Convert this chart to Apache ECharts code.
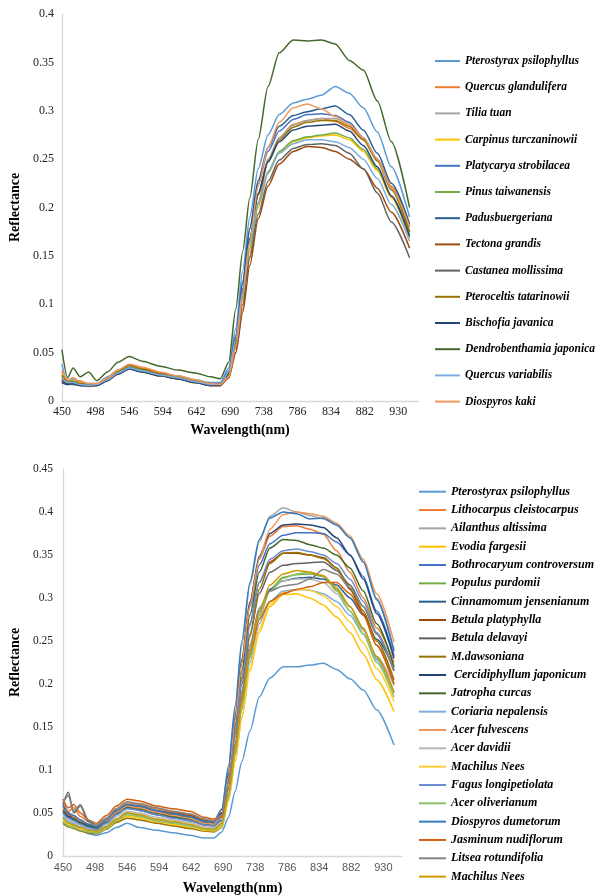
<!DOCTYPE html>
<html>
<head>
<meta charset="utf-8">
<title>Reflectance</title>
<script src="https://cdn.jsdelivr.net/npm/echarts@6.0.0/dist/echarts.min.js"></script>
<style>
  html, body { margin: 0; padding: 0; background: #fff; }
  #chart { width: 597px; height: 896px; }
</style>
</head>
<body>
<div id="chart"></div>
<script>
// sampled wavelengths (nm), shared by both panels
const wavelengths = [450, 458, 466, 476, 488, 500, 515, 530, 546, 565, 590, 615, 640, 662, 676,
  688, 698, 708, 718, 730, 744, 760, 780, 800, 820, 840, 860, 880, 900, 920, 946];
const xTickLabels = [450, 498, 546, 594, 642, 690, 738, 786, 834, 882, 930];
const yTicksTop = [0, 0.05, 0.1, 0.15, 0.2, 0.25, 0.3, 0.35, 0.4];
const yTicksBottom = [0, 0.05, 0.1, 0.15, 0.2, 0.25, 0.3, 0.35, 0.4, 0.45];

// excel style palette
const palette = ['#5B9BD5', '#ED7D31', '#A5A5A5', '#FFC000', '#4472C4', '#70AD47', '#255E91', '#9E480E',
  '#636363', '#997300', '#264478', '#43682B', '#7CAFDD', '#F1975A', '#B7B7B7', '#FFCD33', '#698ED0',
  '#8CC168', '#327DC2', '#D26012', '#848484', '#CC9A00'];

// ---- top panel ----
const topNames = ['Pterostyrax psilophyllus', 'Quercus glandulifera', 'Tilia tuan', 'Carpinus turczaninowii',
  'Platycarya strobilacea', 'Pinus taiwanensis', 'Padusbuergeriana', 'Tectona grandis', 'Castanea mollissima',
  'Pteroceltis tatarinowii', 'Bischofia javanica', 'Dendrobenthamia japonica', 'Quercus variabilis', 'Diospyros kaki'];

const topValues = [
  [0.038,0.019,0.023,0.020,0.018,0.018,0.025,0.032,0.037,0.034,0.029,0.026,0.022,0.019,0.019, 0.034,0.075,0.135,0.19,0.24,0.275,0.296,0.308,0.312,0.316,0.325,0.318,0.303,0.278,0.242,0.19],
  [0.030,0.022,0.020,0.021,0.017,0.017,0.023,0.031,0.037,0.034,0.029,0.025,0.021,0.017,0.016, 0.024,0.05,0.095,0.15,0.205,0.248,0.272,0.286,0.29,0.292,0.289,0.282,0.27,0.25,0.222,0.18],
  [0.025,0.021,0.019,0.018,0.016,0.017,0.023,0.030,0.035,0.032,0.027,0.024,0.020,0.017,0.017, 0.028,0.062,0.115,0.168,0.215,0.25,0.272,0.285,0.29,0.292,0.292,0.286,0.272,0.25,0.22,0.175],
  [0.024,0.020,0.019,0.018,0.016,0.017,0.022,0.029,0.034,0.031,0.026,0.023,0.019,0.016,0.016, 0.026,0.056,0.105,0.155,0.2,0.235,0.257,0.268,0.272,0.274,0.275,0.27,0.258,0.238,0.21,0.168],
  [0.022,0.018,0.020,0.017,0.016,0.017,0.022,0.030,0.035,0.032,0.028,0.025,0.021,0.018,0.018, 0.031,0.068,0.124,0.178,0.225,0.258,0.279,0.291,0.296,0.297,0.295,0.288,0.272,0.25,0.22,0.18],
  [0.026,0.019,0.021,0.018,0.017,0.017,0.023,0.030,0.035,0.032,0.027,0.024,0.020,0.017,0.017, 0.027,0.058,0.108,0.158,0.203,0.237,0.258,0.269,0.273,0.275,0.277,0.272,0.26,0.24,0.212,0.172],
  [0.020,0.017,0.019,0.016,0.016,0.017,0.022,0.029,0.034,0.031,0.027,0.024,0.020,0.017,0.017, 0.03,0.066,0.122,0.178,0.228,0.262,0.284,0.295,0.299,0.302,0.305,0.296,0.28,0.256,0.225,0.183],
  [0.022,0.019,0.018,0.017,0.016,0.016,0.021,0.028,0.033,0.030,0.026,0.023,0.019,0.016,0.016, 0.024,0.05,0.092,0.14,0.188,0.222,0.245,0.258,0.263,0.262,0.258,0.25,0.24,0.22,0.195,0.158],
  [0.021,0.018,0.017,0.016,0.015,0.016,0.021,0.028,0.033,0.030,0.026,0.023,0.019,0.016,0.016, 0.026,0.055,0.1,0.148,0.193,0.227,0.249,0.261,0.265,0.266,0.264,0.256,0.24,0.215,0.185,0.148],
  [0.027,0.020,0.020,0.018,0.017,0.017,0.023,0.031,0.037,0.033,0.028,0.025,0.021,0.017,0.017, 0.027,0.06,0.112,0.165,0.213,0.248,0.27,0.283,0.288,0.29,0.29,0.284,0.27,0.248,0.218,0.175],
  [0.019,0.017,0.018,0.016,0.016,0.016,0.021,0.028,0.033,0.030,0.026,0.023,0.019,0.016,0.016, 0.029,0.063,0.116,0.168,0.214,0.247,0.268,0.28,0.284,0.285,0.286,0.279,0.264,0.242,0.212,0.17],
  [0.053,0.024,0.034,0.025,0.030,0.021,0.030,0.040,0.046,0.041,0.036,0.032,0.029,0.025,0.023, 0.04,0.095,0.155,0.21,0.27,0.325,0.36,0.373,0.372,0.373,0.369,0.352,0.342,0.31,0.268,0.2],
  [0.024,0.019,0.019,0.017,0.016,0.017,0.022,0.029,0.034,0.031,0.027,0.024,0.020,0.017,0.017, 0.03,0.064,0.115,0.163,0.205,0.236,0.256,0.266,0.27,0.27,0.268,0.262,0.25,0.23,0.203,0.165],
  [0.032,0.022,0.024,0.020,0.018,0.018,0.024,0.032,0.038,0.035,0.030,0.026,0.022,0.018,0.017, 0.025,0.056,0.108,0.165,0.222,0.262,0.288,0.303,0.307,0.302,0.294,0.286,0.272,0.25,0.22,0.18]
];

// ---- bottom panel ----
// second "Machilus Nees" has a trailing space so the legend keeps both entries
const bottomNames = ['Pterostyrax psilophyllus', 'Lithocarpus cleistocarpus', 'Ailanthus altissima', 'Evodia fargesii',
  'Bothrocaryum controversum', 'Populus purdomii', 'Cinnamomum jensenianum', 'Betula platyphylla', 'Betula delavayi',
  'M.dawsoniana', ' Cercidiphyllum japonicum', 'Jatropha curcas', 'Coriaria nepalensis', 'Acer fulvescens',
  'Acer davidii', 'Machilus Nees', 'Fagus longipetiolata', 'Acer oliverianum', 'Diospyros dumetorum',
  'Jasminum nudiflorum', 'Litsea rotundifolia', 'Machilus Nees '];

const bottomValues = [
  [0.045,0.04,0.035,0.03,0.026,0.024,0.027,0.033,0.038,0.033,0.03,0.027,0.024,0.021,0.021, 0.028,0.045,0.075,0.11,0.145,0.185,0.207,0.22,0.22,0.222,0.224,0.217,0.206,0.193,0.17,0.129],
  [0.066,0.052,0.056,0.046,0.04,0.036,0.044,0.055,0.062,0.06,0.055,0.051,0.048,0.042,0.041, 0.055,0.1,0.165,0.23,0.295,0.345,0.372,0.383,0.384,0.38,0.374,0.355,0.33,0.3,0.265,0.225],
  [0.058,0.05,0.047,0.042,0.037,0.034,0.04,0.05,0.057,0.055,0.05,0.046,0.043,0.037,0.036, 0.05,0.1,0.17,0.245,0.315,0.365,0.395,0.405,0.4,0.396,0.392,0.385,0.37,0.342,0.3,0.24],
  [0.045,0.038,0.036,0.033,0.03,0.028,0.032,0.04,0.046,0.044,0.039,0.036,0.033,0.029,0.029, 0.035,0.065,0.11,0.16,0.215,0.26,0.29,0.304,0.305,0.3,0.292,0.278,0.26,0.235,0.205,0.168],
  [0.06,0.05,0.046,0.042,0.036,0.033,0.04,0.051,0.058,0.056,0.051,0.047,0.044,0.038,0.037, 0.05,0.095,0.16,0.225,0.29,0.338,0.363,0.373,0.376,0.376,0.375,0.365,0.35,0.325,0.285,0.233],
  [0.04,0.034,0.035,0.031,0.029,0.028,0.033,0.042,0.05,0.047,0.041,0.038,0.035,0.031,0.03, 0.038,0.07,0.12,0.175,0.232,0.28,0.31,0.324,0.327,0.328,0.325,0.31,0.29,0.265,0.23,0.19],
  [0.05,0.045,0.042,0.038,0.034,0.032,0.039,0.05,0.056,0.053,0.048,0.045,0.041,0.036,0.035, 0.042,0.078,0.13,0.185,0.24,0.285,0.31,0.32,0.323,0.324,0.322,0.315,0.3,0.28,0.252,0.218],
  [0.054,0.048,0.045,0.04,0.036,0.034,0.041,0.052,0.06,0.058,0.053,0.05,0.047,0.041,0.04, 0.05,0.09,0.148,0.208,0.27,0.318,0.342,0.352,0.352,0.35,0.347,0.335,0.31,0.282,0.245,0.2],
  [0.06,0.074,0.05,0.058,0.04,0.035,0.041,0.052,0.059,0.057,0.052,0.048,0.045,0.039,0.038, 0.048,0.087,0.142,0.2,0.258,0.305,0.33,0.338,0.34,0.341,0.342,0.332,0.315,0.29,0.258,0.215],
  [0.038,0.034,0.032,0.029,0.027,0.026,0.031,0.039,0.044,0.042,0.038,0.035,0.032,0.029,0.028, 0.033,0.068,0.125,0.19,0.255,0.31,0.34,0.352,0.353,0.35,0.346,0.335,0.312,0.285,0.25,0.205],
  [0.052,0.046,0.043,0.039,0.035,0.033,0.04,0.051,0.058,0.056,0.051,0.047,0.044,0.038,0.037, 0.05,0.095,0.16,0.228,0.295,0.348,0.375,0.385,0.386,0.385,0.382,0.37,0.35,0.322,0.282,0.23],
  [0.05,0.044,0.042,0.038,0.034,0.032,0.039,0.049,0.056,0.054,0.049,0.046,0.043,0.037,0.036, 0.047,0.09,0.152,0.215,0.28,0.33,0.358,0.368,0.367,0.362,0.358,0.35,0.335,0.308,0.27,0.22],
  [0.046,0.04,0.038,0.034,0.031,0.029,0.034,0.043,0.05,0.047,0.042,0.039,0.036,0.032,0.031, 0.038,0.07,0.118,0.17,0.225,0.27,0.296,0.308,0.31,0.309,0.305,0.296,0.28,0.258,0.228,0.19],
  [0.056,0.05,0.046,0.041,0.037,0.035,0.041,0.051,0.058,0.056,0.051,0.047,0.044,0.038,0.037, 0.048,0.092,0.158,0.225,0.292,0.345,0.38,0.397,0.4,0.398,0.395,0.387,0.372,0.345,0.305,0.249],
  [0.048,0.042,0.04,0.036,0.032,0.03,0.036,0.046,0.052,0.05,0.045,0.042,0.039,0.034,0.033, 0.04,0.075,0.128,0.182,0.238,0.283,0.308,0.32,0.322,0.322,0.318,0.305,0.285,0.262,0.232,0.198],
  [0.042,0.036,0.034,0.031,0.029,0.027,0.032,0.041,0.048,0.045,0.04,0.037,0.034,0.03,0.029, 0.034,0.064,0.11,0.162,0.218,0.264,0.293,0.306,0.31,0.309,0.303,0.29,0.272,0.248,0.218,0.18],
  [0.05,0.044,0.041,0.037,0.033,0.031,0.038,0.048,0.055,0.053,0.048,0.044,0.041,0.036,0.035, 0.045,0.085,0.143,0.205,0.268,0.318,0.345,0.355,0.357,0.354,0.35,0.34,0.322,0.296,0.26,0.215],
  [0.04,0.035,0.033,0.03,0.028,0.027,0.032,0.041,0.048,0.046,0.041,0.038,0.035,0.031,0.03, 0.036,0.068,0.117,0.172,0.23,0.277,0.308,0.323,0.328,0.33,0.326,0.308,0.285,0.258,0.225,0.185],
  [0.058,0.05,0.047,0.042,0.037,0.034,0.042,0.053,0.06,0.058,0.053,0.049,0.046,0.04,0.039, 0.054,0.105,0.175,0.25,0.318,0.368,0.393,0.4,0.398,0.392,0.393,0.385,0.37,0.342,0.298,0.238],
  [0.066,0.056,0.06,0.05,0.042,0.038,0.047,0.058,0.066,0.064,0.058,0.055,0.052,0.045,0.043, 0.045,0.08,0.13,0.182,0.235,0.275,0.296,0.305,0.31,0.313,0.318,0.318,0.305,0.28,0.245,0.2],
  [0.062,0.07,0.052,0.06,0.042,0.036,0.044,0.055,0.063,0.061,0.056,0.052,0.049,0.043,0.041, 0.048,0.085,0.138,0.192,0.245,0.288,0.308,0.314,0.316,0.322,0.333,0.328,0.312,0.29,0.258,0.215],
  [0.044,0.038,0.036,0.033,0.03,0.029,0.034,0.043,0.05,0.048,0.043,0.04,0.037,0.032,0.031, 0.038,0.072,0.122,0.178,0.236,0.284,0.315,0.328,0.332,0.33,0.326,0.312,0.29,0.264,0.232,0.19]
];

const serif = '"Liberation Serif", "Times New Roman", serif';

function buildSeries(names, values, axisIdx) {
  return names.map(function (name, i) {
    return {
      name: name,
      type: 'line',
      xAxisIndex: axisIdx,
      yAxisIndex: axisIdx,
      symbol: 'none',
      smooth: 0.25,
      smoothMonotone: 'x',
      color: palette[i],
      lineStyle: { width: 1.5, color: palette[i] },
      data: wavelengths.map(function (w, j) { return [w, values[i][j]]; })
    };
  });
}

function yAxis(ticks, grid, labelFont, margin, gap) {
  return {
    type: 'value',
    gridIndex: grid,
    min: ticks[0],
    max: ticks[ticks.length - 1],
    interval: ticks[1] - ticks[0],
    name: 'Reflectance',
    nameLocation: 'middle',
    nameGap: gap,
    nameTextStyle: { fontFamily: serif, fontWeight: 'bold', fontSize: 14, color: '#000' },
    axisLine: { show: true, lineStyle: { color: '#D9D9D9', width: 1.3 } },
    axisTick: { show: false },
    splitLine: { show: false },
    axisLabel: {
      margin: margin,
      fontFamily: serif,
      fontSize: labelFont,
      color: '#222',
      formatter: function (v) { return String(Math.round(v * 100) / 100); }
    }
  };
}

function xAxis(grid, labelStyle, gap) {
  return {
    type: 'value',
    gridIndex: grid,
    min: xTickLabels[0],
    max: 958,
    interval: xTickLabels[1] - xTickLabels[0],
    name: 'Wavelength(nm)',
    nameLocation: 'middle',
    nameGap: gap,
    nameTextStyle: { fontFamily: serif, fontWeight: 'bold', fontSize: 14, color: '#000' },
    axisLine: { show: true, lineStyle: { color: '#D9D9D9', width: 1.3 } },
    axisTick: { show: false },
    splitLine: { show: false },
    axisLabel: Object.assign({ showMaxLabel: false }, labelStyle)
  };
}

// legend with plain line swatches
function legend(names, left, top, width, gap, fontSize) {
  return {
    data: names,
    orient: 'vertical',
    left: left,
    top: top,
    padding: 0,
    icon: 'rect',
    itemWidth: width,
    itemHeight: 2,
    itemGap: gap,
    selectedMode: false,
    textStyle: {
      fontFamily: serif, fontWeight: 'bold', fontStyle: 'italic',
      fontSize: fontSize, lineHeight: 14, color: '#000'
    }
  };
}

const chart = echarts.init(document.getElementById('chart'), null, { renderer: 'canvas' });

chart.setOption({
  animation: false,
  backgroundColor: '#fff',
  grid: [
    { left: 54, top: 14, width: 364, height: 387 },
    { left: 57, top: 469, width: 345, height: 389 }
  ],
  xAxis: [
    xAxis(0, { margin: 5, fontFamily: serif, fontSize: 12, color: '#222' }, 22),
    xAxis(1, { margin: 6, fontFamily: '"Liberation Sans", Arial, sans-serif', fontSize: 11, color: '#595959' }, 25)
  ],
  yAxis: [
    yAxis(yTicksTop, 0, 12, 8, 33),
    yAxis(yTicksBottom, 1, 11.5, 10, 35)
  ],
  legend: [
    legend(topNames, 435, 54, 25, 12.2, 11.5),
    legend(bottomNames, 419, 484.7, 27, 4.33, 12)
  ],
  series: buildSeries(topNames, topValues, 0).concat(buildSeries(bottomNames, bottomValues, 1))
});
</script>
</body>
</html>
